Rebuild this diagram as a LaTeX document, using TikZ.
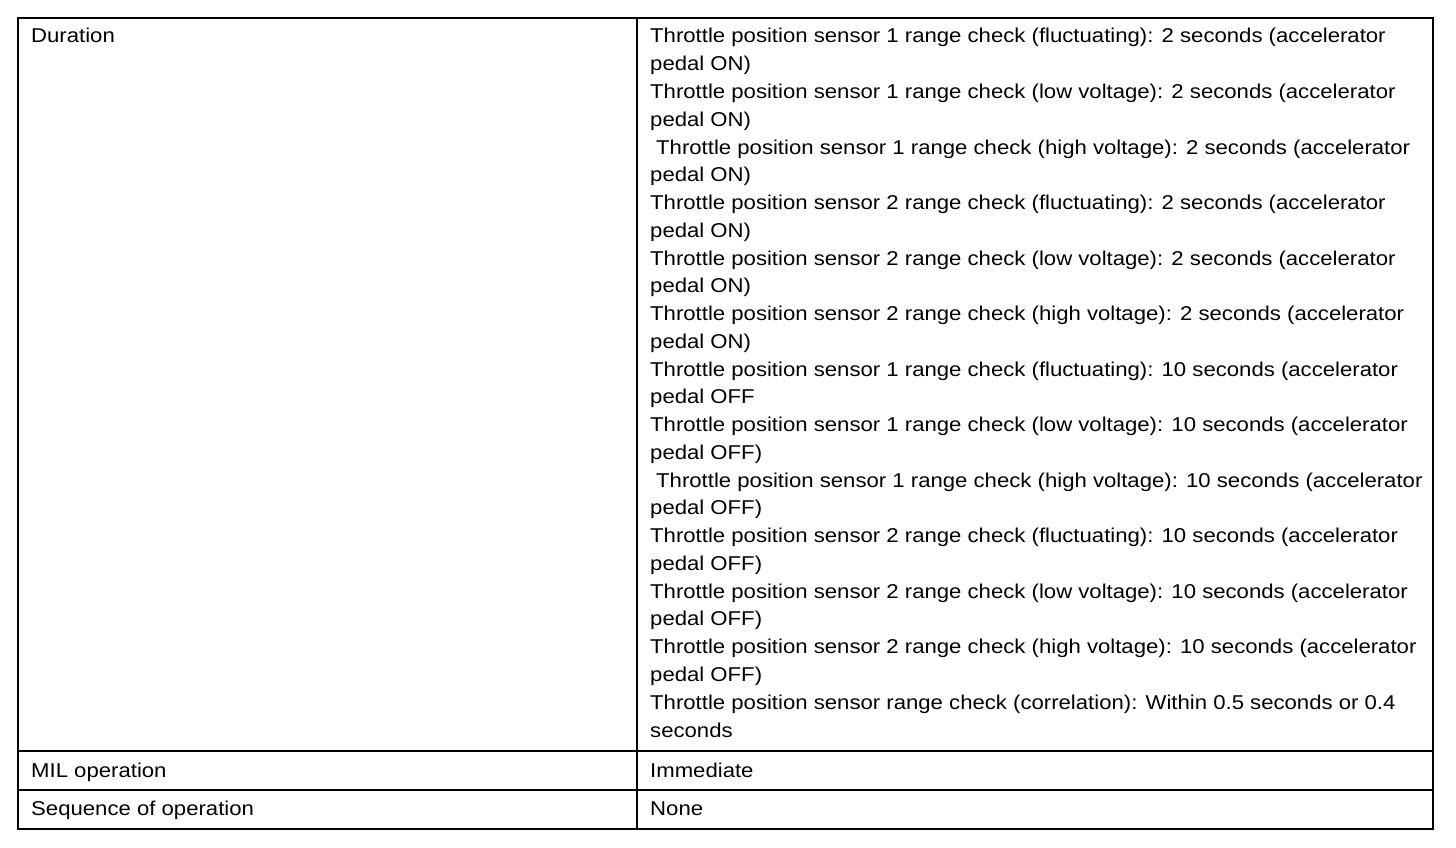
\documentclass[tikz,border=0pt]{standalone}
\usepackage{fontspec}
\setmainfont[FakeStretch=1.107]{Liberation Sans}
\usetikzlibrary{positioning}

\tikzset{
  cell/.style={anchor=base west, inner sep=0pt, font=\fontsize{20}{24}\selectfont},
  rule/.style={line width=2pt},
  thinrule/.style={line width=1.5pt}
}

\begin{document}
\begin{tikzpicture}[x=1pt,y=-1pt]
  \useasboundingbox (0,0) rectangle (1456,848);
  % grid
  \draw [rule] (18,18) rectangle (1433,829);
  \draw [thinrule] (637,18) -- (637,829);
  \draw [rule] (18,751) -- (1433,751);
  \draw [thinrule] (18,790) -- (1433,790);
  % left column
  \node [cell] (dur) at (31,43) {Duration};
  \node [cell] (mil) at (31,777) {MIL operation};
  \node [cell] (seq) at (31,815) {Sequence of operation};
  % right column
  \foreach \txt [count=\i from 0] in {
      {Throttle position sensor 1 range check (fluctuating): 2 seconds (accelerator},
      {pedal ON)},
      {Throttle position sensor 1 range check (low voltage): 2 seconds (accelerator},
      {pedal ON)},
      {\hspace*{6pt}Throttle position sensor 1 range check (high voltage): 2 seconds (accelerator},
      {pedal ON)},
      {Throttle position sensor 2 range check (fluctuating): 2 seconds (accelerator},
      {pedal ON)},
      {Throttle position sensor 2 range check (low voltage): 2 seconds (accelerator},
      {pedal ON)},
      {Throttle position sensor 2 range check (high voltage): 2 seconds (accelerator},
      {pedal ON)},
      {Throttle position sensor 1 range check (fluctuating): 10 seconds (accelerator},
      {pedal OFF},
      {Throttle position sensor 1 range check (low voltage): 10 seconds (accelerator},
      {pedal OFF)},
      {\hspace*{6pt}Throttle position sensor 1 range check (high voltage): 10 seconds (accelerator},
      {pedal OFF)},
      {Throttle position sensor 2 range check (fluctuating): 10 seconds (accelerator},
      {pedal OFF)},
      {Throttle position sensor 2 range check (low voltage): 10 seconds (accelerator},
      {pedal OFF)},
      {Throttle position sensor 2 range check (high voltage): 10 seconds (accelerator},
      {pedal OFF)},
      {Throttle position sensor range check (correlation): Within 0.5 seconds or 0.4},
      {seconds}} {
    \node [cell] (d\i) at (650,43+27.76*\i) {\txt};
  }
  \node [cell] (imm) at (650,777) {Immediate};
  \node [cell] (none) at (650,815) {None};
\end{tikzpicture}
\end{document}
